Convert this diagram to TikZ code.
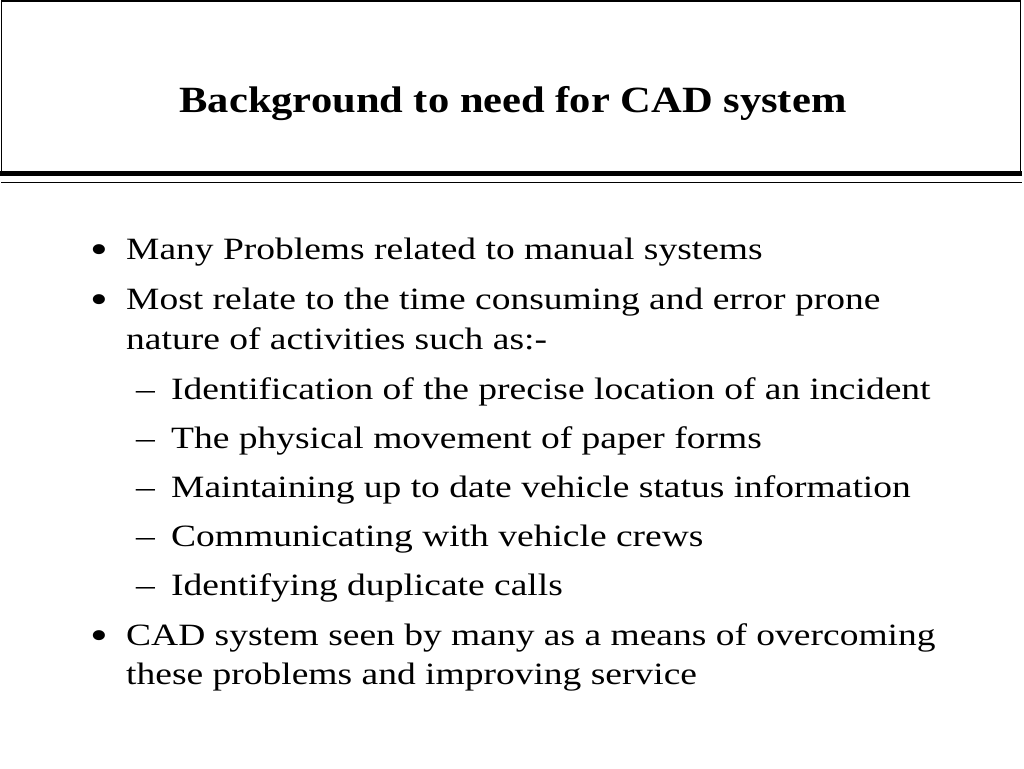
\documentclass[tikz,border=0pt]{standalone}
\usepackage{fontspec}
\setmainfont[FakeStretch=1.21]{Liberation Serif}
\newfontfamily\titlefont[FakeStretch=1.15]{Liberation Serif}
\begin{document}
\begin{tikzpicture}[x=1pt,y=-1pt,
  body/.style={anchor=base west,inner sep=0pt,font=\fontsize{31}{36}\selectfont},
  mark1/.style={anchor=base west,inner sep=0pt,font=\fontsize{31}{36}\selectfont},
  ttl/.style={anchor=base,inner sep=0pt,font=\fontsize{37}{44}\selectfont\titlefont\bfseries}]
\useasboundingbox (0,0) rectangle (1024,768);
% header box
\draw[line width=1.5pt] (1.5,173) -- (1.5,1) -- (1020.5,1) -- (1020.5,173);
\draw[line width=5pt] (0,173.5) -- (1022,173.5);
\draw[line width=1.5pt] (1,182.5) -- (1022,182.5);
\node[ttl] (title) at (513,112) {Background to need for CAD system};
% bullets
\node[mark1] (b1) at (90,263) {\scalebox{1.35}{\textbullet}};
\node[body] (t1) at (126,259) {Many Problems related to manual systems};
\node[mark1] (b2) at (90,313) {\scalebox{1.35}{\textbullet}};
\node[body] (t2) at (126,309) {Most relate to the time consuming and error prone};
\node[body] (t2b) at (126,349) {nature of activities such as:-};
\node[mark1] (d1) at (136,399) {–};
\node[body] (s1) at (171,399) {Identification of the precise location of an incident};
\node[mark1] (d2) at (136,448) {–};
\node[body] (s2) at (171,448) {The physical movement of paper forms};
\node[mark1] (d3) at (136,497) {–};
\node[body] (s3) at (171,497) {Maintaining up to date vehicle status information};
\node[mark1] (d4) at (136,546) {–};
\node[body] (s4) at (171,546) {Communicating with vehicle crews};
\node[mark1] (d5) at (136,595) {–};
\node[body] (s5) at (171,595) {Identifying duplicate calls};
\node[mark1] (b3) at (90,649) {\scalebox{1.35}{\textbullet}};
\node[body] (t3) at (126,645) {CAD system seen by many as a means of overcoming};
\node[body] (t3b) at (126,684) {these problems and improving service};
\end{tikzpicture}
\end{document}
